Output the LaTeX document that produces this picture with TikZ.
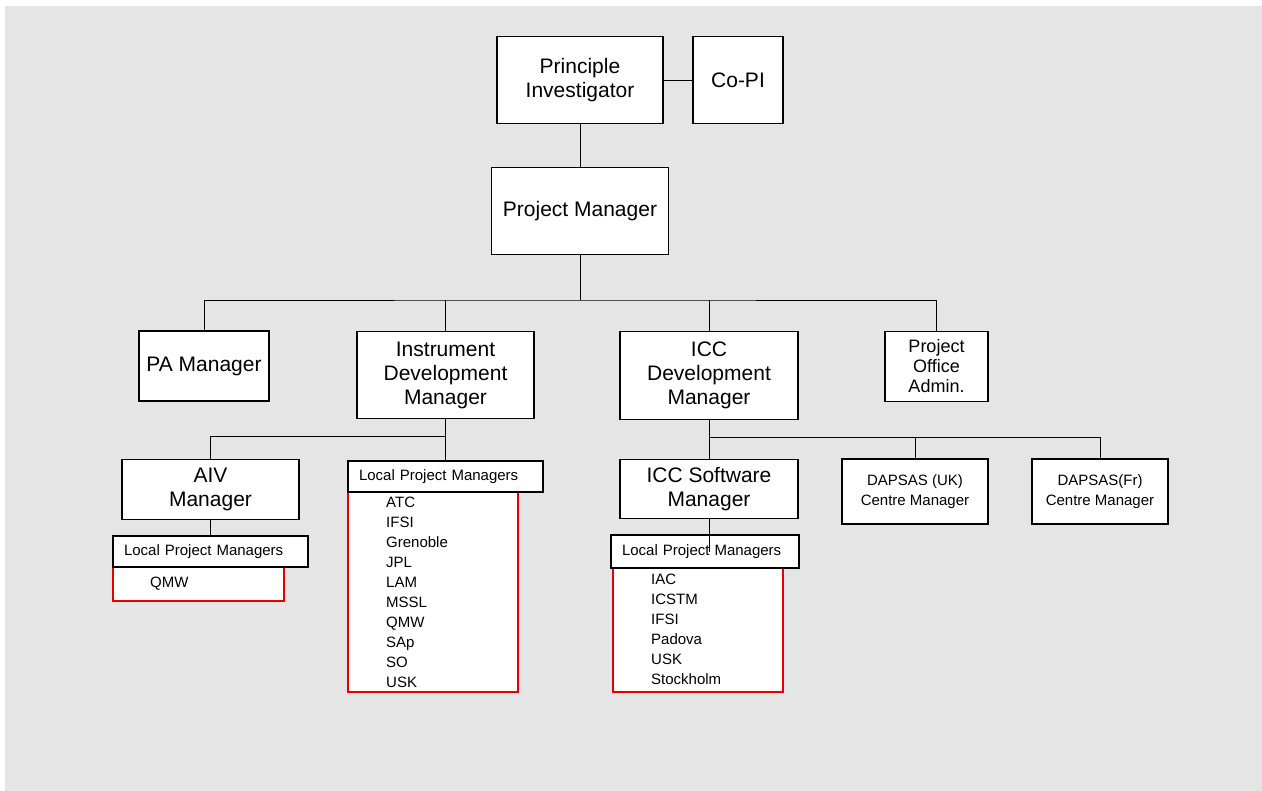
\documentclass[tikz,border=0pt]{standalone}
\usepackage{fontspec}
\setmainfont{Liberation Sans}
\definecolor{bgcol}{RGB}{229,229,229}
\definecolor{redline}{RGB}{230,0,0}
\begin{document}
\begin{tikzpicture}[x=1pt,y=-1pt,
  box/.style={draw, line width=1.6pt, fill=white, inner sep=0pt, align=center},
  redbox/.style={draw=redline, line width=1.6pt, fill=white, inner sep=0pt},
  conn/.style={line width=0.9pt},
  big/.style={font=\fontsize{21}{24}\selectfont},
  mid/.style={font=\fontsize{18}{20}\selectfont},
  small/.style={font=\fontsize{15}{20}\selectfont},
  lpm/.style={box, small, align=left, inner xsep=11pt, inner ysep=0pt},
  items/.style={small, align=left, anchor=north west, inner sep=0pt}
]
\useasboundingbox (0,0) rectangle (1262,791);
\fill[bgcol] (5,6) rectangle (1262,791);

% top level
\node[box, big, minimum width=166pt, minimum height=87pt] (pi) at (580,80) {Principle\\Investigator};
\node[box, big, minimum width=90pt, minimum height=87pt] (copi) at (738,80) {Co-PI};
\node[box, big, minimum width=177pt, minimum height=87pt] (pm) at (580,211) {Project Manager};

% second level
\node[box, big, minimum width=130pt, minimum height=70pt] (pa) at (204,366) {PA Manager};
\node[box, big, minimum width=177pt, minimum height=87pt] (idm) at (445.5,375) {Instrument\\Development\\Manager};
\node[box, big, minimum width=178pt, minimum height=88pt] (iccd) at (709,375.5) {ICC\\Development\\Manager};
\node[box, mid, minimum width=103pt, minimum height=70pt] (poa) at (936.5,366.5) {Project\\Office\\Admin.};

% third level
\node[box, big, minimum width=177pt, minimum height=60pt] (aiv) at (210.5,489.5) {AIV\\Manager};
\node[box, big, minimum width=178pt, minimum height=59pt] (iccsw) at (709,489) {ICC Software\\Manager};
\node[box, small, minimum width=146pt, minimum height=65pt] (dapuk) at (915,491.5) {DAPSAS (UK)\\Centre Manager};
\node[box, small, minimum width=136pt, minimum height=65pt] (dapfr) at (1100,491.5) {DAPSAS(Fr)\\Centre Manager};

% local project managers
\node[redbox, minimum width=171pt, minimum height=34pt] (r1) at (198.5,584) {};
\node[lpm, text width=173pt, minimum height=31pt] (lpm1) at (210.5,551.5) {Local Project Managers};
\node[items] (l1) at (150,577) {QMW};

\node[redbox, minimum width=170pt, minimum height=200pt] (r2) at (433,592) {};
\node[lpm, text width=173pt, minimum height=31pt] (lpm2) at (445.5,476.5) {Local Project Managers};
\node[items] (l2) at (386,497) {ATC\\IFSI\\Grenoble\\JPL\\LAM\\MSSL\\QMW\\SAp\\SO\\USK};

\node[redbox, minimum width=170pt, minimum height=124pt] (r3) at (698,630) {};
\node[lpm, text width=166pt, minimum height=33pt] (lpm3) at (705,551.5) {Local Project Managers};
\node[items] (l3) at (651,574) {IAC\\ICSTM\\IFSI\\Padova\\USK\\Stockholm};

% connectors
\coordinate (b1) at (580,300);
\coordinate (b2) at (445.5,436);
\coordinate (b3) at (709,437);
\coordinate (c3) at (709,552);

\draw[conn] (pi.east) -- (copi.west);
\draw[conn] (pi.south) -- (pm.north);
\draw[conn] (pm.south) -- (b1);
\draw[conn] (pa.north) |- (b1) -| (poa.north);
\draw[conn] (idm.north) -- (idm.north |- b1);
\draw[conn] (iccd.north) -- (iccd.north |- b1);

\draw[conn] (idm.south) -- (lpm2.north);
\draw[conn] (b2) -| (aiv.north);
\draw[conn] (aiv.south) -- (lpm1.north);

\draw[conn] (iccd.south) -- (iccsw.north);
\draw[conn] (b3) -| (dapfr.north);
\draw[conn] (dapuk.north) -- (dapuk.north |- b3);
\draw[conn] (iccsw.south) -- (c3);
\end{tikzpicture}
\end{document}
